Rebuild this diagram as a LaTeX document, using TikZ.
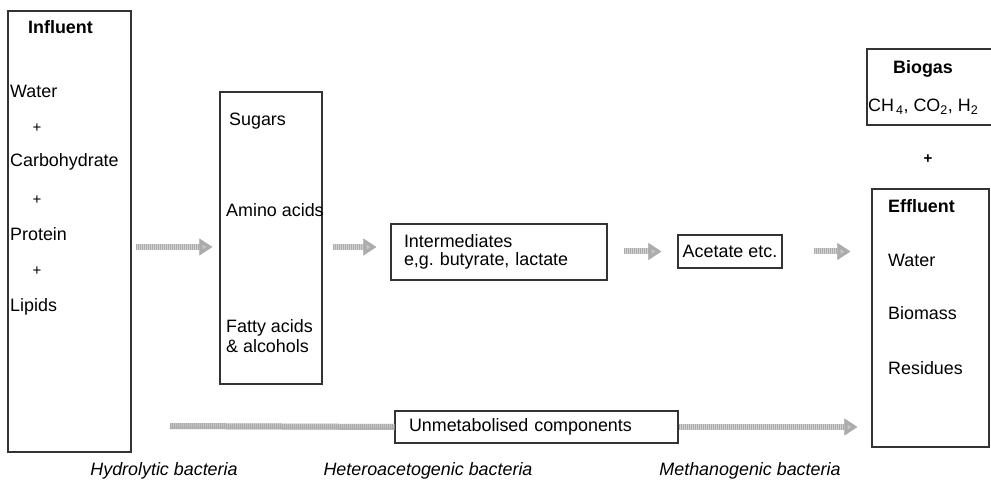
\documentclass[tikz,border=0pt]{standalone}
\usepackage{fontspec}
\setmainfont{Liberation Sans}
\usetikzlibrary{arrows.meta}
\tikzset{
    stagebox/.style={
        draw=black!80,
        line width=1.1pt,
        inner sep=0pt
    },
    label text/.style={
        anchor=west,
        inner sep=0pt,
        font=\fontsize{17.9}{20}\selectfont
    },
    bold text/.style={
        label text,
        font=\fontsize{17.9}{20}\selectfont\bfseries
    },
    plus text/.style={
        inner sep=0pt,
        font=\fontsize{15}{17}\selectfont
    },
    bacteria text/.style={
        inner sep=0pt,
        font=\fontsize{17.9}{20}\selectfont\itshape
    },
    flow line/.style={
        draw=gray!65,
        line width=6pt,
        dash pattern=on 1.3pt off 0.7pt,
        preaction={draw=gray!35, line width=6pt}
    },
    flow arrow/.style={
        flow line,
        -{Triangle[length=13pt,width=16pt,fill=gray!45]}
    }
}
\begin{document}
\begin{tikzpicture}[x=1pt, y=-1pt]
    \clip (0,0) rectangle (991,481);
    \coordinate (lane1) at (0,247);
    \coordinate (unmetstart) at (170,426);

    \node[stagebox, minimum width=123pt, minimum height=441pt] (influent) at (69.5,231.5) {};
    \node[bold text] (influenttitle) at (28,27) {Influent};
    \node[label text] (water) at (10,91) {Water};
    \node[plus text] (plusa) at (37,128) {+};
    \node[label text] (carbo) at (10,162) {Carbohydrate};
    \node[plus text] (plusb) at (37,200) {+};
    \node[label text] (protein) at (10,234) {Protein};
    \node[plus text] (plusc) at (37,271) {+};
    \node[label text] (lipids) at (10,307) {Lipids};

    \node[stagebox, minimum width=102pt, minimum height=292pt] (monomers) at (271,238) {};
    \node[label text] (sugars) at (229,121) {Sugars};
    \node[label text] (amino) at (226,210) {Amino acids};
    \node[label text, align=left] (fatty) at (226,336) {Fatty acids\\\& alcohols};

    \node[stagebox, minimum width=216pt, minimum height=56pt, inner xsep=13pt,
        text width=190pt, align=left, font=\fontsize{17.9}{18.5}\selectfont]
        (interm) at (499,252) {Intermediates\\e,g.\ butyrate, lactate};

    \node[stagebox, minimum width=104pt, minimum height=33pt,
        font=\fontsize{17.9}{20}\selectfont] (acetate) at (730,251.5) {Acetate etc.};

    \node[stagebox, minimum width=130pt, minimum height=76pt] (biogas) at (932,87) {};
    \node[bold text] (biogastitle) at (893,69) {Biogas};
    \node[label text] (gases) at (868,107)
        {CH\textsubscript{\,4}, CO\textsubscript{2}, H\textsubscript{2}};
    \node[plus text, font=\fontsize{15}{17}\selectfont\bfseries] (plusd) at (928,159) {+};

    \node[stagebox, minimum width=117pt, minimum height=258pt] (effluent) at (930.5,318) {};
    \node[bold text] (effluenttitle) at (888,206) {Effluent};
    \node[label text] (ewater) at (888,260) {Water};
    \node[label text] (biomass) at (888,313) {Biomass};
    \node[label text] (residues) at (888,368) {Residues};

    \node[stagebox, minimum height=32pt, inner xsep=14pt, text width=255pt, align=left,
        font=\fontsize{17.9}{20}\selectfont] (unmet) at (536.5,427) {Unmetabolised components};

    \node[bacteria text] (hydrolytic) at (164,471) {Hydrolytic bacteria};
    \node[bacteria text] (hetero) at (428,471) {Heteroacetogenic bacteria};
    \node[bacteria text] (methano) at (750,471) {Methanogenic bacteria};

    \draw[flow arrow] ([xshift=4pt]influent.east |- lane1) -- ([xshift=-7pt]monomers.west |- lane1);
    \draw[flow arrow] ([xshift=10pt]monomers.east |- lane1) -- ([xshift=-14pt]interm.west |- lane1);
    \draw[flow arrow] ([xshift=16pt]interm.east |- acetate) -- ([xshift=-16pt]acetate.west);
    \draw[flow arrow] ([xshift=31pt]acetate.east) -- ([xshift=-21pt]effluent.west |- acetate);
    \draw[flow line] (unmetstart) -- (unmet.west);
    \draw[flow arrow] (unmet.east) -- ([xshift=-14pt]effluent.west |- unmet);
\end{tikzpicture}
\end{document}
